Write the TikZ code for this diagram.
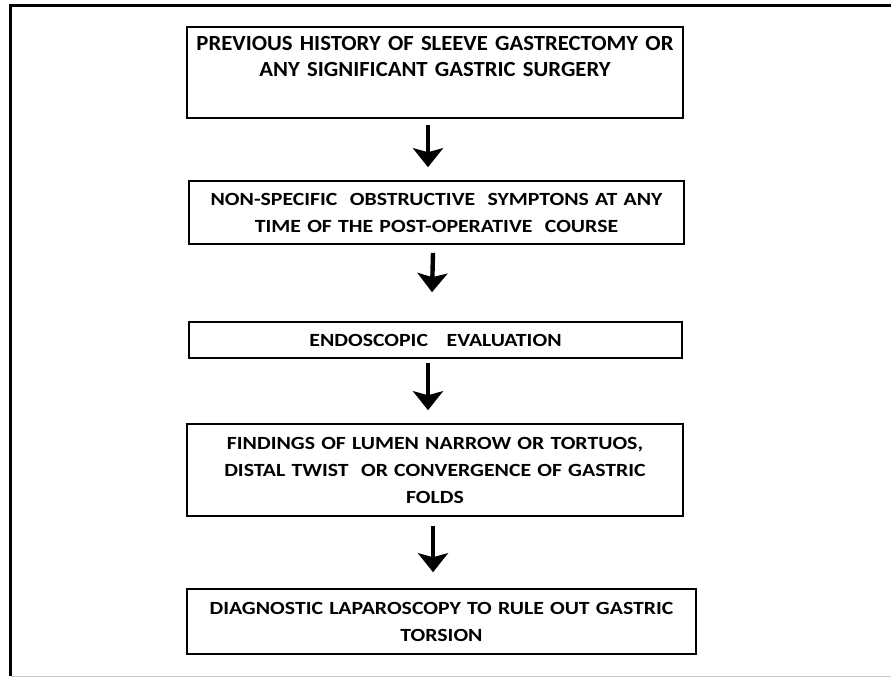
\documentclass[tikz,border=0pt]{standalone}
\usepackage{fontspec}
\setmainfont{Carlito}
\newfontfamily\boxfont[FakeStretch=1.17]{Carlito}
\newfontfamily\topfont[FakeStretch=1.05]{Carlito}
\usetikzlibrary{arrows.meta}

\begin{document}
\begin{tikzpicture}[x=1pt, y=-1pt,
    step box/.style = {draw, line width=1.6pt, rectangle, inner sep=0pt,
        minimum width=#1, text width=#1-6pt, align=center,
        font=\boxfont\bfseries\fontsize{18.6}{27}\selectfont},
    flow/.style = {line width=4.4pt, -{Stealth[length=19pt, width=30pt, inset=4pt]}}]
    \useasboundingbox (0,0) rectangle (891,678);
    % frame of the figure
    \draw[line width=2.7pt] (891,5.5) -- (10.5,5.5) -- (10.5,676);
    \draw[line width=1.5pt, black!22] (10.5,676.5) -- (891,676.5);

    \node[step box=496pt, font=\topfont\bfseries\fontsize{21.6}{26}\selectfont,
          text height=23pt, text depth=68pt] at (435,72.5) (history)
        {PREVIOUS HISTORY OF SLEEVE GASTRECTOMY OR\\ANY SIGNIFICANT GASTRIC SURGERY};
    \node[step box=495pt, minimum height=63pt] at (436.5,212.5) (symptoms)
        {NON-SPECIFIC\ \ OBSTRUCTIVE\ \ SYMPTONS AT ANY\\TIME OF THE POST-OPERATIVE\ \ COURSE};
    \node[step box=493pt, minimum height=36pt] at (435.5,340) (endoscopy)
        {ENDOSCOPIC\ \ \ EVALUATION};
    \node[step box=496pt, minimum height=92pt] at (435,470) (findings)
        {FINDINGS OF LUMEN NARROW OR TORTUOS,\\DISTAL TWIST\ \ OR CONVERGENCE OF GASTRIC\\FOLDS};
    \node[step box=509pt, minimum height=65pt] at (441.5,621.5) (laparoscopy)
        {DIAGNOSTIC LAPAROSCOPY TO RULE OUT GASTRIC\\TORSION};

    \draw[flow] ([xshift=-7pt, yshift=-6pt]history.south) -- ([xshift=-8.5pt, yshift=13pt]symptoms.north);
    \draw[flow] ([xshift=-3.5pt, yshift=-8pt]symptoms.south) -- ([xshift=-3.5pt, yshift=29pt]endoscopy.north);
    \draw[flow] ([xshift=-7.5pt, yshift=-4pt]endoscopy.south) -- ([xshift=-7pt, yshift=13pt]findings.north);
    \draw[flow] ([xshift=-2pt, yshift=-9pt]findings.south) -- ([xshift=-8.5pt, yshift=16pt]laparoscopy.north);
\end{tikzpicture}
\end{document}
